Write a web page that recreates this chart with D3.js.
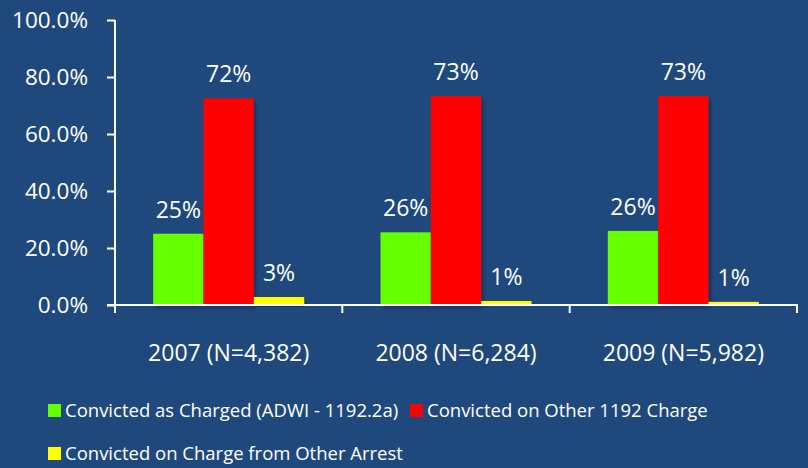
<!DOCTYPE html>
<html>
<head>
<meta charset="utf-8">
<script src="https://cdn.jsdelivr.net/npm/d3@7"></script>
<style>
  body { margin: 0; background: #1f497d; }
  svg { display: block; font-family: "Open Sans", "Noto Sans", sans-serif; }
</style>
</head>
<body>
<svg width="808" height="468"></svg>
<script>
// data
const years = ["2007 (N=4,382)", "2008 (N=6,284)", "2009 (N=5,982)"];
const seriesNames = ["Convicted as Charged (ADWI - 1192.2a)", "Convicted on Other 1192 Charge", "Convicted on Charge from Other Arrest"];
const asCharged = [0.25, 0.255, 0.26];
const other1192 = [0.725, 0.733, 0.733];
const otherArrest = [0.028, 0.014, 0.011];
const labels = [["25%", "26%", "26%"], ["72%", "73%", "73%"], ["3%", "1%", "1%"]];
const colors = ["#66ff00", "#ff0000", "#ffff00"];
const yTicks = [0, 0.2, 0.4, 0.6, 0.8, 1.0];

const svg = d3.select("svg");

const x0 = d3.scaleBand().domain(years).range([115, 797]).paddingInner(0).paddingOuter(0);
const y = d3.scaleLinear().domain([0, 1]).range([305, 20]);

const defs = svg.append("defs");
const f = defs.append("filter").attr("id", "sh").attr("x", "-10%").attr("y", "-10%").attr("width", "130%").attr("height", "130%");
f.append("feDropShadow").attr("dx", 2).attr("dy", 3).attr("stdDeviation", 2).attr("flood-color", "#000").attr("flood-opacity", 0.35);

const values = [asCharged, other1192, otherArrest];
const groupW = 151;
const x1 = d3.scaleBand().domain([0, 1, 2]).range([0, groupW]).padding(0);

// bars
years.forEach(function (yr, i) {
    const gx = x0(yr) + (x0.bandwidth() - groupW) / 2;
    const g = svg.append("g").attr("transform", "translate(" + gx + ",0)");
    values.forEach(function (vals, s) {
        g.append("rect")
            .attr("x", x1(s))
            .attr("width", x1.bandwidth())
            .attr("y", y(vals[i]))
            .attr("height", y(0) - y(vals[i]))
            .attr("fill", colors[s])
            .attr("filter", "url(#sh)");
        g.append("text")
            .attr("x", x1(s) + x1.bandwidth() / 2)
            .attr("y", y(vals[i]) - 16)
            .attr("text-anchor", "middle")
            .attr("fill", "white")
            .style("font-size", "23px")
            .text(labels[s][i]);
    });
});

// y axis
const yAxis = svg.append("g").attr("transform", "translate(115,0)")
    .call(d3.axisLeft(y).tickValues(yTicks).tickFormat(d3.format(".1%")).tickSize(8).tickPadding(19))
    .attr("font-family", null);
yAxis.select(".domain").attr("stroke", "white").attr("stroke-width", 2).attr("d", "M0,20V305");
yAxis.selectAll(".tick line").attr("stroke", "white").attr("stroke-width", 2);
yAxis.selectAll(".tick text").attr("fill", "white").style("font-size", "22.5px");

// x axis
const xAxis = svg.append("g").attr("transform", "translate(0,305)")
    .call(d3.axisBottom(x0).tickSize(0).tickPadding(40))
    .attr("font-family", null);
xAxis.select(".domain").attr("stroke", "white").attr("stroke-width", 2).attr("d", "M107,0H797V8");
xAxis.selectAll(".tick text").attr("fill", "white").style("font-size", "23px");
[115, 342.3, 569.7, 797].forEach(function (px) {
    svg.append("line").attr("x1", px).attr("x2", px).attr("y1", 305).attr("y2", 313)
        .attr("stroke", "white").attr("stroke-width", 2);
});

// legend
const legPos = [[48, 417], [410, 417], [48, 460]];
seriesNames.forEach(function (name, s) {
    const lg = svg.append("g").attr("transform", "translate(" + legPos[s][0] + "," + legPos[s][1] + ")");
    lg.append("rect").attr("x", 0).attr("y", -13).attr("width", 13).attr("height", 13).attr("fill", colors[s]);
    lg.append("text").attr("x", 17).attr("y", 0).attr("fill", "white").style("font-size", "18.5px").text(name);
});
</script>
</body>
</html>
